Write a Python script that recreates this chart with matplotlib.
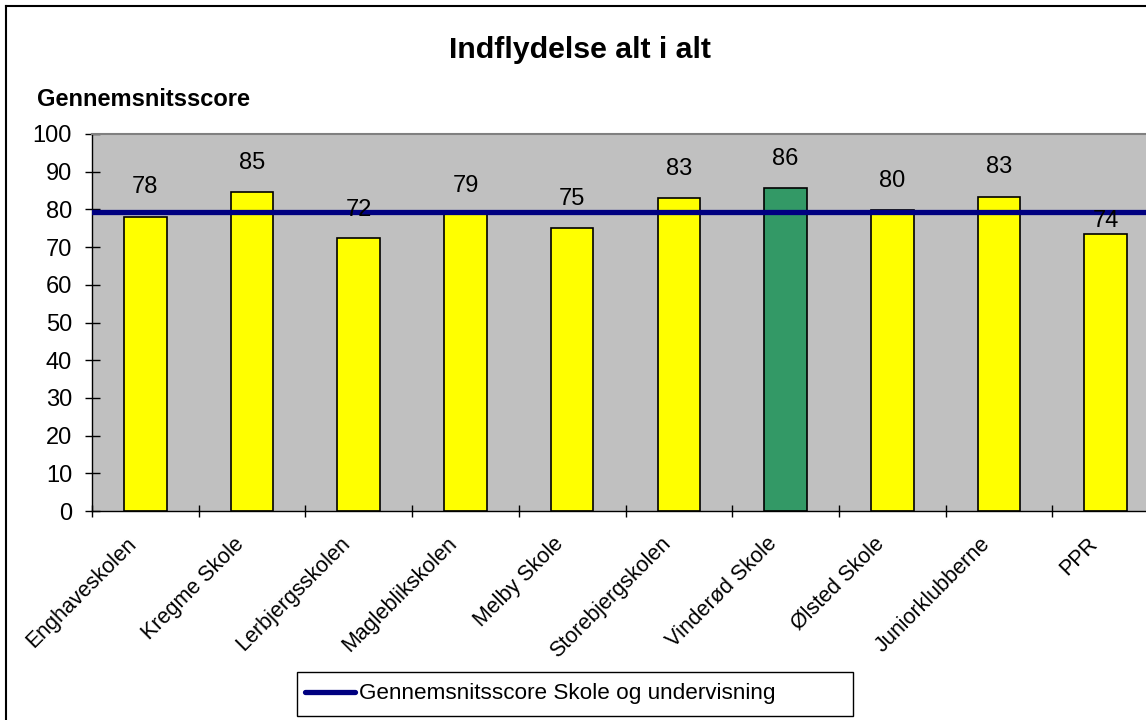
import matplotlib
matplotlib.use("Agg")
import matplotlib.pyplot as plt
from matplotlib.lines import Line2D
from matplotlib.patches import Rectangle
from matplotlib.transforms import ScaledTranslation

plt.rcParams['font.family'] = ['Liberation Sans', 'DejaVu Sans']

categories = ["Enghaveskolen", "Kregme Skole", "Lerbjergsskolen", "Magleblikskolen",
              "Melby Skole", "Storebjergskolen", "Vinderød Skole", "Ølsted Skole",
              "Juniorklubberne", "PPR"]
values = [78.1, 84.5, 72.4, 79.1, 75.0, 82.9, 85.6, 79.8, 83.4, 73.5]
value_labels = ["78", "85", "72", "79", "75", "83", "86", "80", "83", "74"]
average = 79.2
average_label = "Gennemsnitsscore Skole og undervisning"
highlight = "Vinderød Skole"
title = "Indflydelse alt i alt"
ylabel = "Gennemsnitsscore"
yticks = list(range(0, 101, 10))

label_offsets = [21, 21, 20, 19, 21, 21, 21, 21, 21, 9]

W, H = 1146, 720
fig = plt.figure(figsize=(W / 100, H / 100), dpi=100)
fig.patch.set_facecolor("white")

ax = fig.add_axes([92 / W, 1 - 511 / H, 1067 / W, (511 - 134) / H])
ax.set_facecolor("#C0C0C0")

x = list(range(len(categories)))
colors = ["#339966" if c == highlight else "#FFFF00" for c in categories]
ax.bar(x, values, width=0.4, color=colors, edgecolor="black", linewidth=1.2, zorder=2)
ax.axhline(average, color="#000080", linewidth=3.8, zorder=3)

for xi, v, lab, off in zip(x, values, value_labels, label_offsets):
    ax.annotate(lab, (xi, v), xytext=(0, off), textcoords="offset points",
                ha="center", va="center", fontsize=17, zorder=4)

ax.set_xlim(-0.5, len(categories) - 0.5)
ax.set_ylim(0, 100)
ax.set_yticks(yticks)
ax.set_yticklabels([str(t) for t in yticks], fontsize=17)
ax.set_xticks([i - 0.5 for i in range(len(categories))], minor=False)
ax.set_xticklabels([])
ax.set_xticks(x, minor=True)
ax.set_xticklabels(categories, minor=True, rotation=45, ha="right", va="top",
                   rotation_mode="anchor", fontsize=15.5)
ax.tick_params(axis="x", which="minor", length=0, pad=6)
ax.tick_params(axis="x", which="major", direction="inout", length=8.6, width=1)
ax.tick_params(axis="y", direction="inout", length=10.8, width=1, pad=9)

shift = ScaledTranslation(-19 / 100, -14 / 100, fig.dpi_scale_trans)
for lbl in ax.get_xticklabels(minor=True):
    lbl.set_transform(lbl.get_transform() + shift)

for s in ["top", "right"]:
    ax.spines[s].set_color("#808080")
    ax.spines[s].set_linewidth(1.5)
for s in ["left", "bottom"]:
    ax.spines[s].set_color("black")
    ax.spines[s].set_linewidth(1)

fig.text(580 / W, 1 - 50 / H, title, ha="center", va="center",
         fontsize=21.8, fontweight="bold")
fig.text(37 / W, 1 - 100 / H, ylabel, ha="left", va="center",
         fontsize=17, fontweight="bold")

# legend box (Excel-style, wide frame)
fig.add_artist(Rectangle((297 / W, 1 - 716 / H), (853 - 297) / W, 44 / H,
                         transform=fig.transFigure, facecolor="white",
                         edgecolor="black", linewidth=1, zorder=5))
handle = Line2D([0], [0], color="#000080", linewidth=3.8, solid_capstyle="round")
leg = fig.legend([handle], [average_label], loc="center left",
                 bbox_to_anchor=(305 / W, 1 - 694 / H), fontsize=16.2,
                 frameon=False, handlelength=2.2, handletextpad=0.2,
                 borderpad=0.0, borderaxespad=0.0)
leg.set_zorder(6)

fig.add_artist(Line2D([6 / W, 1], [1 - 6 / H, 1 - 6 / H], color="black", linewidth=1.5))
fig.add_artist(Line2D([6 / W, 6 / W], [0, 1 - 6 / H], color="black", linewidth=1.5))

fig.savefig("out.png", dpi=100)
